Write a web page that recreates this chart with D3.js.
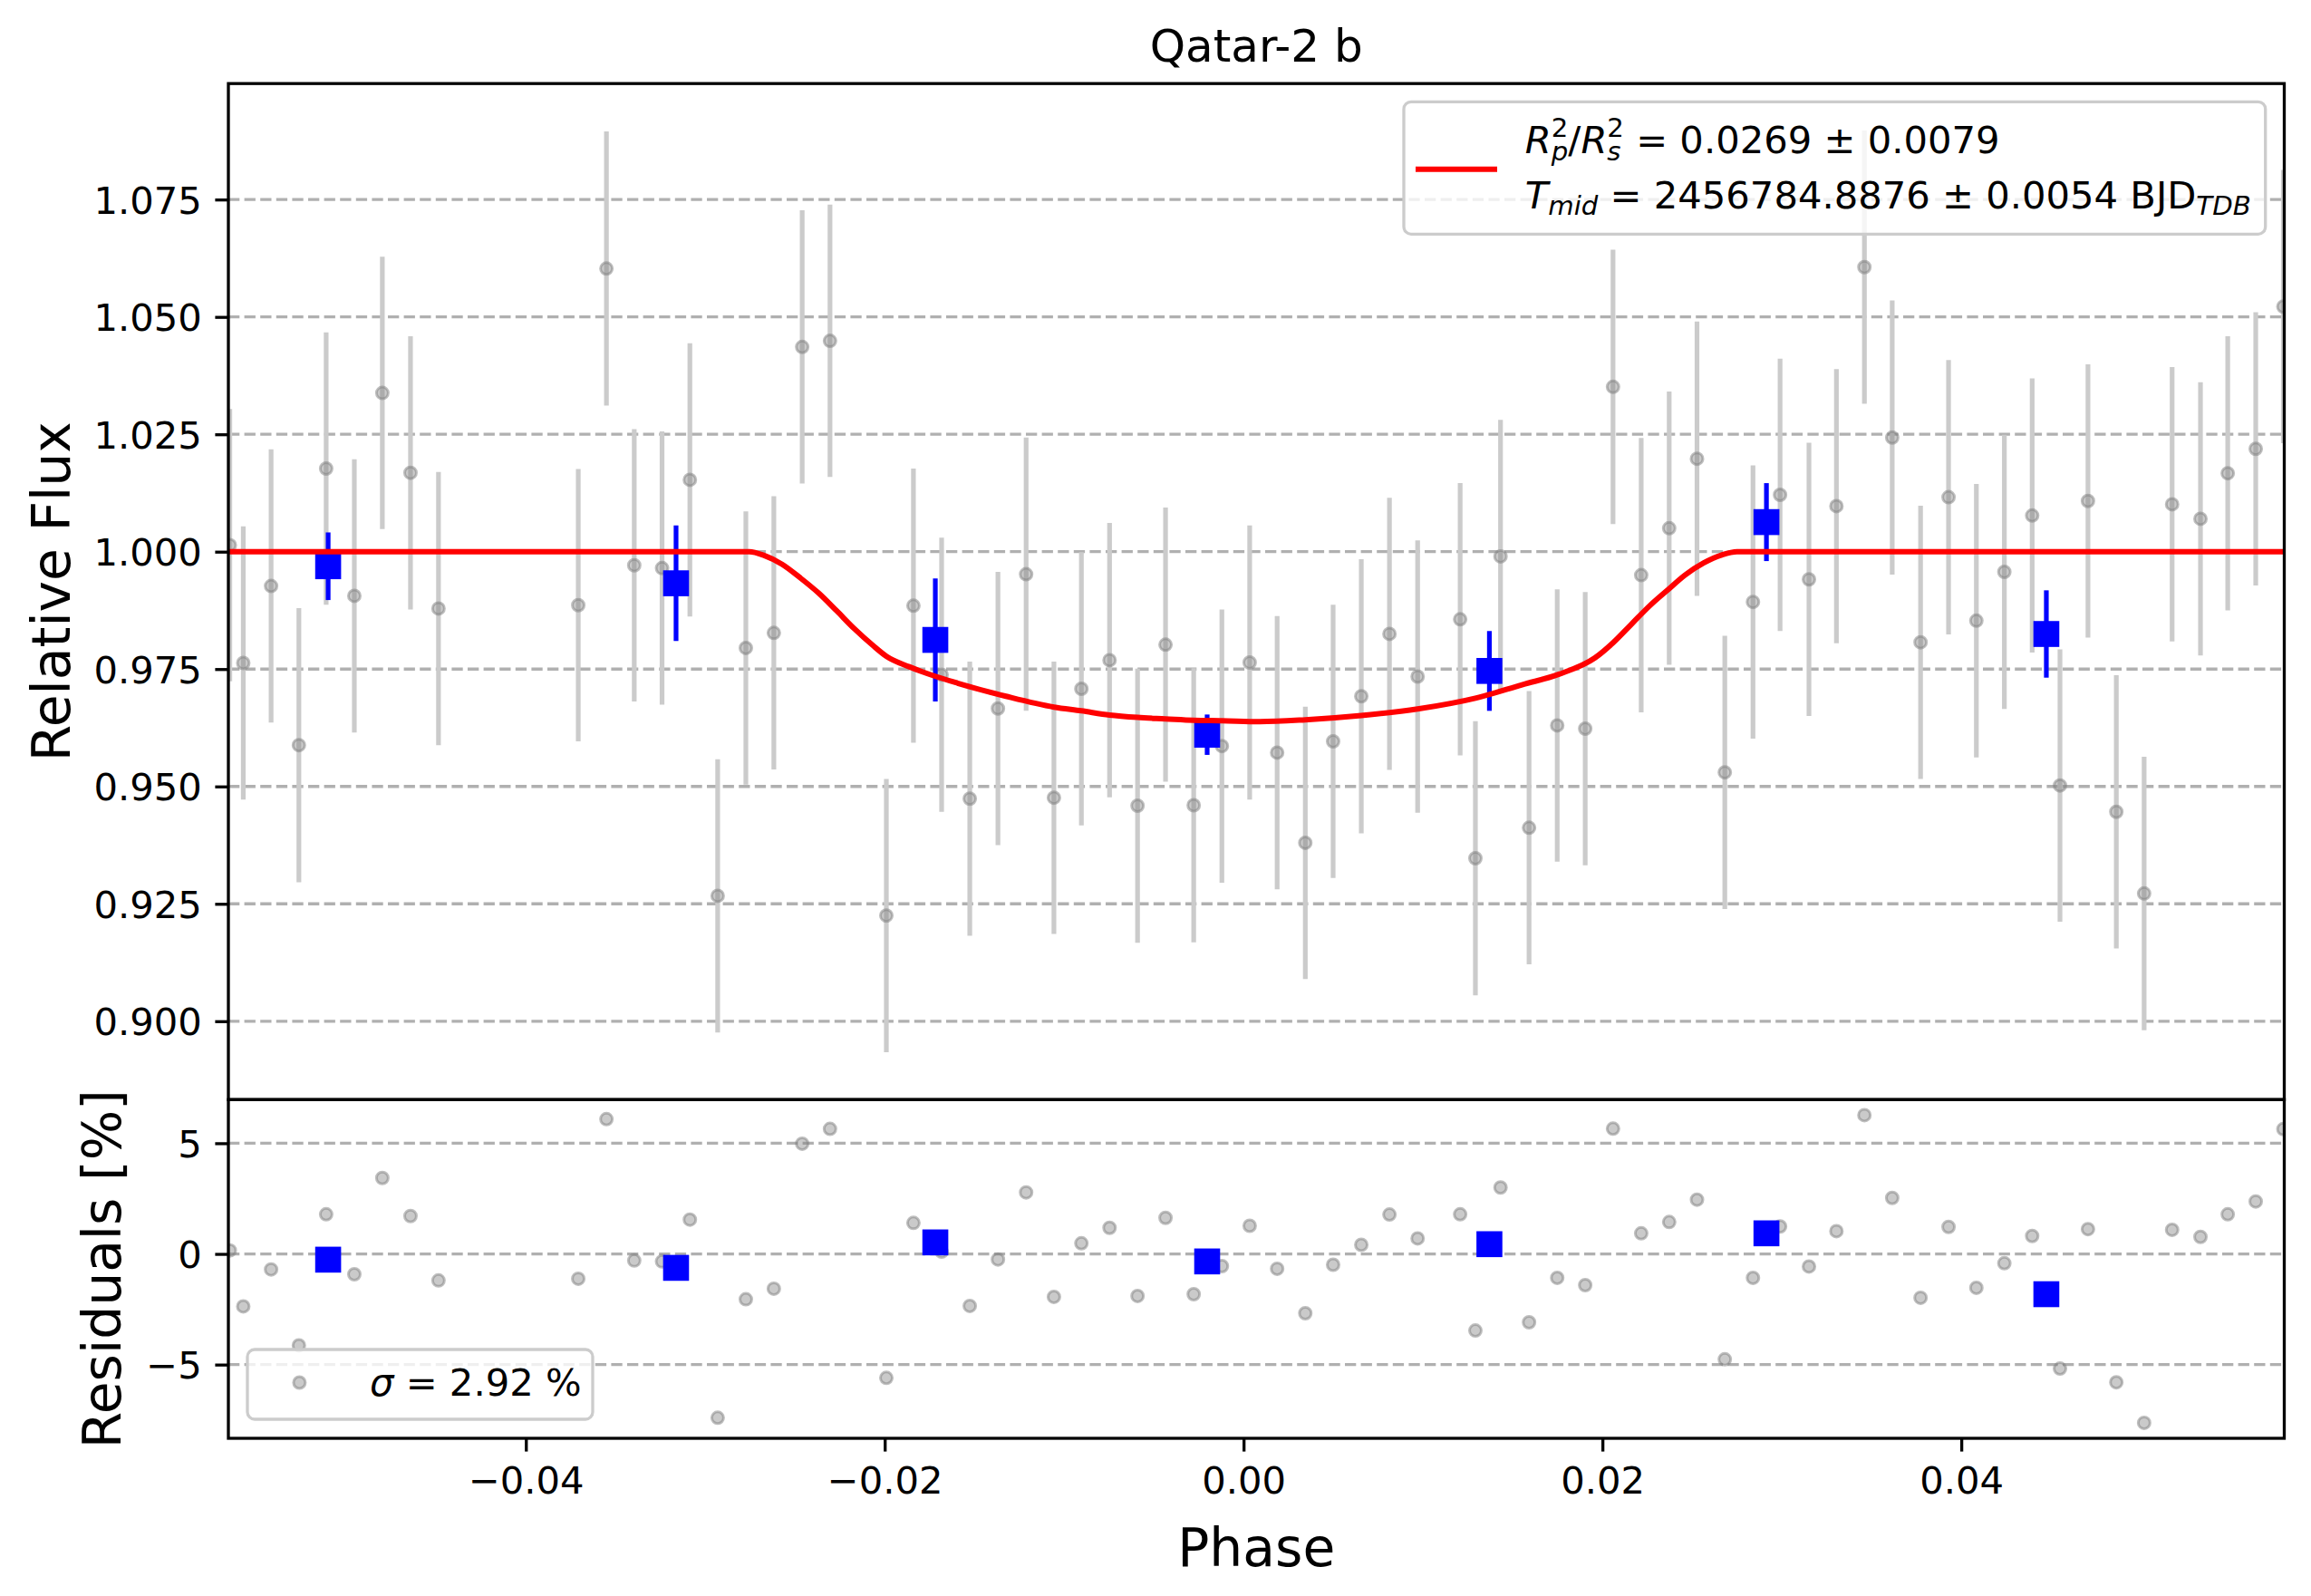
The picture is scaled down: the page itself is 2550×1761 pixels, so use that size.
<!DOCTYPE html>
<html>
<head>
<meta charset="utf-8">
<script src="https://cdn.jsdelivr.net/npm/d3@7"></script>
<style>
  html, body { margin: 0; padding: 0; background: #fff; }
  svg { display: block; }
  text { font-family: "DejaVu Sans", sans-serif; white-space: pre; }
</style>
</head>
<body>
<script>
// ---------------- DATA ----------------
const phase = [
  -0.05650, -0.05575, -0.05420, -0.05265, -0.05113, -0.04956, -0.04800, -0.04643, -0.04487,
  -0.03708, -0.03551, -0.03396, -0.03241, -0.03086, -0.02931, -0.02774, -0.02618, -0.02460,
  -0.02305, -0.01991, -0.01840, -0.01683, -0.01526, -0.01369, -0.01212, -0.01057, -0.00904,
  -0.00747, -0.00591, -0.00435, -0.00278, -0.00121, 0.00034, 0.00187, 0.00344, 0.00499,
  0.00656, 0.00813, 0.00970, 0.01207, 0.01292, 0.01432, 0.01591, 0.01748, 0.01904,
  0.02059, 0.02216, 0.02372, 0.02527, 0.02682, 0.02839, 0.02990, 0.03151, 0.03304,
  0.03460, 0.03615, 0.03773, 0.03929, 0.04084, 0.04240, 0.04395, 0.04550, 0.04706,
  0.04864, 0.05019, 0.05175, 0.05333, 0.05485, 0.05641, 0.05795
];
const flux = [
  1.0014, 0.9763, 0.9927, 0.9588, 1.0177, 0.9906, 1.0338, 1.0168, 0.9879,
  0.9886, 1.0603, 0.9971, 0.9965, 1.0153, 0.9267, 0.9795, 0.9827, 1.0436,
  1.0449, 0.9225, 0.9885, 0.9738, 0.9474, 0.9666, 0.9952, 0.9476, 0.9708,
  0.9769, 0.9459, 0.9802, 0.9460, 0.9586, 0.9764, 0.9572, 0.9380, 0.9596,
  0.9692, 0.9825, 0.9734, 0.9856, 0.9347, 0.9990, 0.9412, 0.9630, 0.9623,
  1.0351, 0.9950, 1.0050, 1.0198, 0.9530, 0.9893, 1.0121, 0.9941, 1.0097,
  1.0606, 1.0243, 0.9807, 1.0116, 0.9853, 0.9957, 1.0077, 0.9502, 1.0108,
  0.9446, 0.9272, 1.0101, 1.0070, 1.0167, 1.0219, 1.0522
];
const fluxErr = [
  0.0290, 0.0291, 0.0291, 0.0292, 0.0290, 0.0291, 0.0290, 0.0291, 0.0291,
  0.0290, 0.0292, 0.0290, 0.0291, 0.0291, 0.0291, 0.0291, 0.0291, 0.0291,
  0.0290, 0.0291, 0.0292, 0.0292, 0.0292, 0.0291, 0.0291, 0.0290, 0.0291,
  0.0292, 0.0292, 0.0292, 0.0292, 0.0291, 0.0292, 0.0291, 0.0290, 0.0291,
  0.0292, 0.0290, 0.0290, 0.0290, 0.0292, 0.0291, 0.0291, 0.0290, 0.0291,
  0.0292, 0.0292, 0.0291, 0.0292, 0.0291, 0.0291, 0.0290, 0.0291, 0.0292,
  0.0291, 0.0292, 0.0291, 0.0292, 0.0291, 0.0292, 0.0292, 0.0290, 0.0291,
  0.0291, 0.0291, 0.0292, 0.0291, 0.0292, 0.0291, 0.0291
];
const residual = [
  0.16, -2.37, -0.70, -4.13, 1.79, -0.92, 3.43, 1.71, -1.20,
  -1.12, 6.09, -0.30, -0.34, 1.55, -7.40, -2.05, -1.57, 4.98,
  5.65, -5.60, 1.40, 0.10, -2.35, -0.25, 2.78, -1.94, 0.48,
  1.18, -1.90, 1.63, -1.82, -0.55, 1.27, -0.67, -2.68, -0.49,
  0.41, 1.78, 0.70, 1.79, -3.46, 3.00, -3.09, -1.08, -1.41,
  5.66, 0.93, 1.44, 2.45, -4.76, -1.08, 1.24, -0.57, 1.03,
  6.27, 2.53, -1.98, 1.22, -1.53, -0.42, 0.81, -5.18, 1.12,
  -5.80, -7.63, 1.09, 0.77, 1.79, 2.37, 5.64
];
// binned points
const binPhase = [-0.05102, -0.03163, -0.01718, -0.00203, 0.01370, 0.02914, 0.04474];
const binFlux = [0.9969, 0.99327, 0.98121, 0.96102, 0.9746, 1.0063, 0.98247];
const binErr = [0.0072, 0.0123, 0.0131, 0.0043, 0.0085, 0.0083, 0.0093];
const binResid = [-0.26, -0.63, 0.52, -0.34, 0.44, 0.93, -1.82];
// fitted transit model
const modelPhase = [
  -0.05658, -0.02755, -0.02672, -0.02571, -0.02470, -0.02369, -0.02268, -0.02167, -0.02065,
  -0.01990, -0.01864, -0.01729, -0.01594, -0.01324, -0.01057, -0.00904, -0.00747, -0.00591,
  -0.00435, -0.00278, -0.00121, 0.00090, 0.00344, 0.00656, 0.00970, 0.01292, 0.01556,
  0.01758, 0.01959, 0.02059, 0.02160, 0.02261, 0.02362, 0.02463, 0.02564, 0.02665, 0.02750,
  0.05800
];
const modelFlux = [
  1.0000, 1.0000, 0.9992, 0.9973, 0.9944, 0.9912, 0.9874, 0.9835, 0.9800,
  0.9777, 0.9755, 0.9736, 0.9720, 0.9692, 0.9669, 0.9661, 0.9652, 0.9647,
  0.9644, 0.9641, 0.9640, 0.9638, 0.9642, 0.9651, 0.9665, 0.9688, 0.9717,
  0.9739, 0.9774, 0.9806, 0.9845, 0.9884, 0.9918, 0.9951, 0.9976, 0.9993, 1.0000,
  1.0000
];
// axis limits and ticks
const xLimits = [-0.05658, 0.05800];
const fluxLimits = [0.8833, 1.0997];
const residLimits = [-8.33, 6.97];
const xTicks = [-0.04, -0.02, 0.00, 0.02, 0.04];
const fluxTicks = [0.900, 0.925, 0.950, 0.975, 1.000, 1.025, 1.050, 1.075];
const residTicks = [-5, 0, 5];
const titleText = "Qatar-2 b";
const sigmaText = " = 2.92 %";

// ---------------- LAYOUT ----------------
const W = 2550, H = 1761;
const L = 252, R = 2520.5, T = 92.2, M = 1213.3, B = 1587;
const TICK_FS = 41.7, LEG_FS = 41.7, TITLE_FS = 50, LABEL_FS = 58.3;
const tickLen = 14.6, tickPad = 14.6, spineW = 3.3;

const svg = d3.select("body").append("svg").attr("width", W).attr("height", H)
  .attr("viewBox", `0 0 ${W} ${H}`);
svg.append("rect").attr("width", W).attr("height", H).attr("fill", "#fff");

const x = d3.scaleLinear().domain(xLimits).range([L, R]);
const yF = d3.scaleLinear().domain(fluxLimits).range([M, T]);
const yR = d3.scaleLinear().domain(residLimits).range([B, M]);

const defs = svg.append("defs");
defs.append("clipPath").attr("id", "clipTop").append("rect")
  .attr("x", L).attr("y", T).attr("width", R - L).attr("height", M - T);
defs.append("clipPath").attr("id", "clipBot").append("rect")
  .attr("x", L).attr("y", M).attr("width", R - L).attr("height", B - M);

const minus = v => (v < 0 ? "\u2212" : "");

// ---------- grids ----------
function grid(scale, ticks) {
  svg.append("g").selectAll("line").data(ticks).join("line")
    .attr("x1", L).attr("x2", R)
    .attr("y1", d => scale(d)).attr("y2", d => scale(d))
    .attr("stroke", "#b0b0b0").attr("stroke-width", 3.3)
    .attr("stroke-dasharray", "12.3,5.3");
}
grid(yF, fluxTicks);
grid(yR, residTicks);

// ---------- top panel ----------
const topG = svg.append("g").attr("clip-path", "url(#clipTop)");
const idx = d3.range(phase.length);
topG.append("g").selectAll("line").data(idx).join("line")
  .attr("x1", i => x(phase[i])).attr("x2", i => x(phase[i]))
  .attr("y1", i => yF(flux[i] - fluxErr[i])).attr("y2", i => yF(flux[i] + fluxErr[i]))
  .attr("stroke", "#cbcbcb").attr("stroke-width", 5.2);
function grayDot(sel) {
  sel.attr("r", 6.5)
    .attr("fill", "#808080").attr("fill-opacity", 0.42)
    .attr("stroke", "#808080").attr("stroke-opacity", 0.5).attr("stroke-width", 3);
}
function grayDots(g, ys) {
  g.append("g").selectAll("circle").data(idx).join("circle")
    .attr("cx", i => x(phase[i])).attr("cy", i => ys(i)).call(grayDot);
}
grayDots(topG, i => yF(flux[i]));
const bidx = d3.range(binPhase.length);
topG.append("g").selectAll("line").data(bidx).join("line")
  .attr("x1", i => x(binPhase[i])).attr("x2", i => x(binPhase[i]))
  .attr("y1", i => yF(binFlux[i] - binErr[i])).attr("y2", i => yF(binFlux[i] + binErr[i]))
  .attr("stroke", "#0000ff").attr("stroke-width", 5.2);
const SQ = 28.6;
topG.append("g").selectAll("rect").data(bidx).join("rect")
  .attr("x", i => x(binPhase[i]) - SQ / 2).attr("y", i => yF(binFlux[i]) - SQ / 2)
  .attr("width", SQ).attr("height", SQ).attr("fill", "#0000ff");
const modelLine = d3.line().x(i => x(modelPhase[i])).y(i => yF(modelFlux[i]))
  .curve(d3.curveMonotoneX);
topG.append("path").attr("d", modelLine(d3.range(modelPhase.length)))
  .attr("fill", "none").attr("stroke", "#ff0000").attr("stroke-width", 6)
  .attr("stroke-linejoin", "round");

// ---------- residual panel ----------
const botG = svg.append("g").attr("clip-path", "url(#clipBot)");
grayDots(botG, i => yR(residual[i]));
botG.append("g").selectAll("rect").data(bidx).join("rect")
  .attr("x", i => x(binPhase[i]) - SQ / 2).attr("y", i => yR(binResid[i]) - SQ / 2)
  .attr("width", SQ).attr("height", SQ).attr("fill", "#0000ff");

// ---------- axes ----------
function styleAxis(g) {
  g.select(".domain").remove();
  g.selectAll(".tick line").attr("stroke", "#000").attr("stroke-width", spineW);
  g.selectAll(".tick text").attr("fill", "#000")
    .style("font-size", TICK_FS + "px").style("font-family", "DejaVu Sans");
}
const axF = svg.append("g").attr("transform", `translate(${L},0)`)
  .call(d3.axisLeft(yF).tickValues(fluxTicks).tickFormat(d3.format(".3f"))
    .tickSize(tickLen).tickPadding(tickPad));
styleAxis(axF); axF.selectAll(".tick text").attr("dy", "0.36em");
const axR = svg.append("g").attr("transform", `translate(${L},0)`)
  .call(d3.axisLeft(yR).tickValues(residTicks).tickFormat(d => minus(d) + Math.abs(d))
    .tickSize(tickLen).tickPadding(tickPad));
styleAxis(axR); axR.selectAll(".tick text").attr("dy", "0.36em");
const axX = svg.append("g").attr("transform", `translate(0,${B})`)
  .call(d3.axisBottom(x).tickValues(xTicks).tickFormat(d => minus(d) + Math.abs(d).toFixed(2))
    .tickSize(tickLen).tickPadding(tickPad));
styleAxis(axX); axX.selectAll(".tick text").attr("dy", "0.76em");

// spines
[[T, M], [M, B]].forEach(([a, b]) => {
  svg.append("rect").attr("x", L).attr("y", a).attr("width", R - L).attr("height", b - a)
    .attr("fill", "none").attr("stroke", "#000").attr("stroke-width", spineW);
});

// ---------- labels ----------
svg.append("text").attr("x", (L + R) / 2).attr("y", 68).attr("text-anchor", "middle")
  .style("font-size", TITLE_FS + "px").text(titleText);
svg.append("text").attr("transform", `translate(77,${(T + M) / 2}) rotate(-90)`)
  .attr("text-anchor", "middle").style("font-size", LABEL_FS + "px").text("Relative Flux");
svg.append("text").attr("transform", `translate(133,${(M + B) / 2}) rotate(-90)`)
  .attr("text-anchor", "middle").style("font-size", LABEL_FS + "px").text("Residuals [%]");
svg.append("text").attr("x", (L + R) / 2).attr("y", 1728).attr("text-anchor", "middle")
  .style("font-size", LABEL_FS + "px").text("Phase");

// ---------- rich text helper (mathtext-like) ----------
function rich(g, x0, y0, size, runs) {
  const t = g.append("text").attr("x", x0).attr("y", y0).style("font-size", size + "px");
  let cx = x0, holdW = 0;
  runs.forEach(r => {
    const sc = r.sub || r.sup ? 0.7 : 1;
    const shift = r.sup ? -0.44 : (r.sub ? (r.stacked ? 0.2 : 0.16) : 0);
    const ts = t.append("tspan").attr("x", cx).attr("y", y0 + shift * size)
      .style("font-size", (size * sc) + "px")
      .style("font-style", r.it ? "italic" : "normal").text(r.t);
    const w = ts.node().getComputedTextLength();
    if (r.hold) { holdW = w; }
    else { cx += Math.max(w, holdW); holdW = 0; }
  });
  return t;
}

// ---------- legend (top) ----------
const lg = svg.append("g");
lg.append("rect").attr("x", 1549).attr("y", 112.3).attr("width", 2499.7 - 1549).attr("height", 258.3 - 112.3)
  .attr("rx", 8).attr("fill", "#fff").attr("fill-opacity", 0.8)
  .attr("stroke", "#cccccc").attr("stroke-width", 3.3);
lg.append("line").attr("x1", 1562).attr("x2", 1652).attr("y1", 186.7).attr("y2", 186.7)
  .attr("stroke", "#ff0000").attr("stroke-width", 6);
rich(lg, 1682.8, 169, LEG_FS, [
  { t: "R", it: true }, { t: "2", sup: true, hold: true }, { t: "p", sub: true, it: true, stacked: true },
  { t: "/" },
  { t: "R", it: true }, { t: "2", sup: true, hold: true }, { t: "s", sub: true, it: true, stacked: true },
  { t: " = 0.0269 \u00b1 0.0079" }
]);
rich(lg, 1682.8, 230, LEG_FS, [
  { t: "T", it: true }, { t: "mid", sub: true, it: true },
  { t: " = 2456784.8876 \u00b1 0.0054 BJD" }, { t: "TDB", sub: true, it: true }
]);

// ---------- legend (residuals) ----------
const lg2 = svg.append("g");
lg2.append("rect").attr("x", 273).attr("y", 1489).attr("width", 654 - 273).attr("height", 1566 - 1489)
  .attr("rx", 8).attr("fill", "#fff").attr("fill-opacity", 0.8)
  .attr("stroke", "#cccccc").attr("stroke-width", 3.3);
lg2.append("circle").attr("cx", 330.4).attr("cy", 1525.5).call(grayDot);
rich(lg2, 408, 1540, LEG_FS, [{ t: "\u03c3", it: true }, { t: sigmaText }]);
</script>
</body>
</html>
